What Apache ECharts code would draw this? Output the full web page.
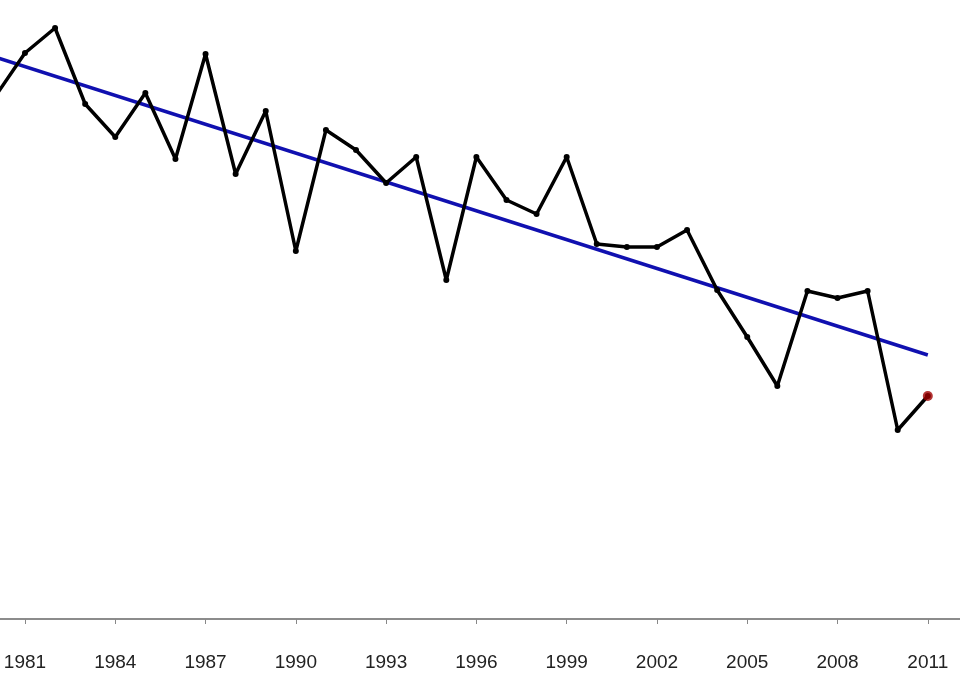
<!DOCTYPE html>
<html><head><meta charset="utf-8">
<script src="https://cdn.jsdelivr.net/npm/echarts@6/dist/echarts.min.js"></script>
<style>html,body{margin:0;padding:0;background:#fff}#c{width:960px;height:690px}</style>
</head><body><div id="c"></div>
<script>
const years = [1980,1981,1982,1983,1984,1985,1986,1987,1988,1989,1990,1991,1992,1993,1994,1995,1996,1997,1998,1999,2000,2001,2002,2003,2004,2005,2006,2007,2008,2009,2010,2011];
// values (arbitrary units: height above axis in px)
const values = [522,566,591,515,482,526,460,565,445,508,368,489,469,436,462,339,462,419,405,462,375,372,372,389,329,282,233,328,321,328,189,223];
const trendYears = [1980,2011];
const trendValues = [562,264];
const tickYears = [1981,1984,1987,1990,1993,1996,1999,2002,2005,2008,2011];

const chart = echarts.init(document.getElementById('c'));
const main = years.map((y,i)=>[y,values[i]]);
chart.setOption({
  animation:false,
  grid:{left:0,right:0,top:0,bottom:71},
  xAxis:{type:'value',min:1980.17,max:2012.07,
    axisLine:{show:true,lineStyle:{color:'#666',width:1.5}},
    axisTick:{show:true,customValues:tickYears,length:5,inside:false,lineStyle:{color:'#888'}},
    axisLabel:{customValues:tickYears,fontFamily:'Liberation Sans',fontSize:19,color:'#222',margin:34,formatter:v=>String(v)},
    splitLine:{show:false}},
  yAxis:{type:'value',min:0,max:619,show:false,splitLine:{show:false}},
  series:[
    {type:'line',data:trendYears.map((y,i)=>[y,trendValues[i]]),symbol:'none',lineStyle:{color:'#1010b0',width:3.5},z:2},
    {type:'line',data:main,symbol:'circle',symbolSize:6,itemStyle:{color:'#000'},lineStyle:{color:'#000',width:3.5},z:3},
    {type:'scatter',data:[main[main.length-1]],symbolSize:10,itemStyle:{color:'#a00000'},z:4}
  ]
});
</script></body></html>
